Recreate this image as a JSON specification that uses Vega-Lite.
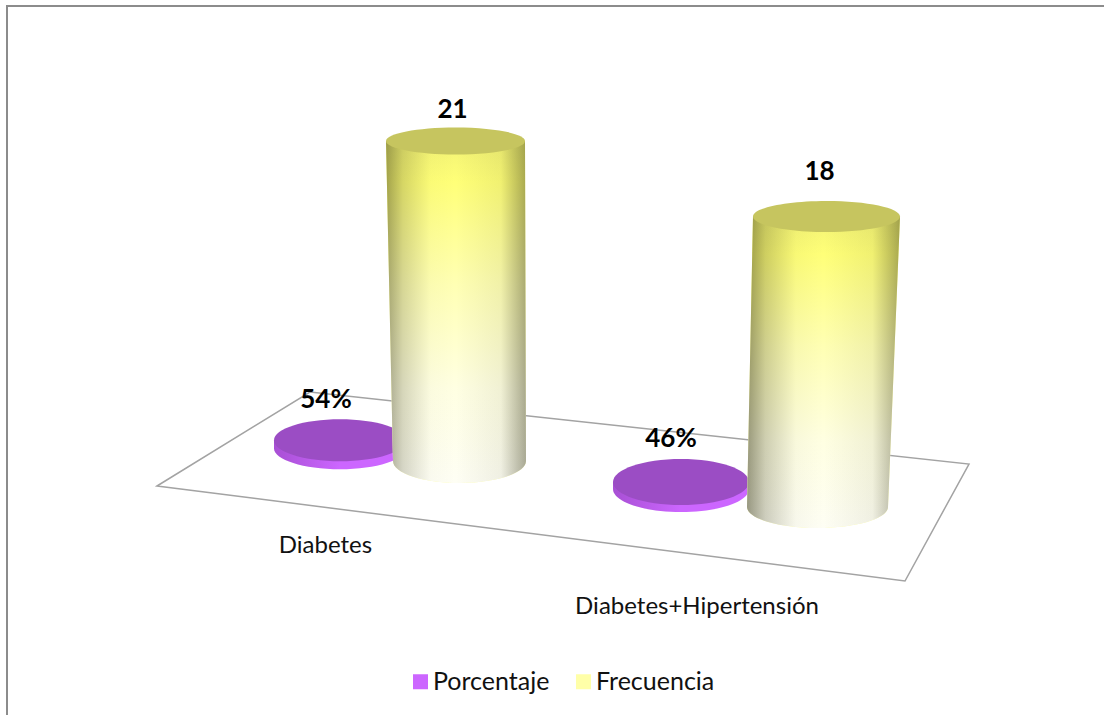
{
  "$schema": "https://vega.github.io/schema/vega-lite/v6.json",
  "width": 1200,
  "height": 800,
  "autosize": "none",
  "padding": {"left": 7, "top": 6, "right": 0, "bottom": 0},
  "background": "white",
  "config": {"view": {"stroke": "#8c8c8c", "strokeWidth": 2}},
  "data": {"values": [
    {"categoria": "Diabetes", "serie": "Porcentaje", "valor": 0.54},
    {"categoria": "Diabetes", "serie": "Frecuencia", "valor": 21},
    {"categoria": "Diabetes+Hipertensión", "serie": "Porcentaje", "valor": 0.46},
    {"categoria": "Diabetes+Hipertensión", "serie": "Frecuencia", "valor": 18}
  ]},
  "layer": [
    {
      "transform": [{"filter": "datum.categoria === 'Diabetes' && datum.serie === 'Frecuencia'"}],
      "mark": {"type": "point", "filled": false, "fill": "transparent", "opacity": 1, "size": 4, "stroke": "#a3a3a3", "strokeWidth": 1.5,
        "shape": "M-298.5,345L-145.5,251L513.5,323L449.5,440Z"},
      "encoding": {
        "x": {"field": "categoria", "type": "nominal", "axis": null, "scale": {"type": "point", "padding": 0, "domain": ["Diabetes", "Diabetes+Hipertensión"], "range": [448.5, 819.5]}},
        "y": {"field": "valor", "type": "quantitative", "axis": null, "scale": {"domain": [0, 21], "range": [455, 135], "nice": false}}
      }
    },
    {
      "transform": [{"filter": "datum.categoria === 'Diabetes' && datum.serie === 'Porcentaje'"}],
      "encoding": {
        "x": {"field": "categoria", "type": "nominal", "axis": null, "scale": {"type": "point", "padding": 0, "domain": ["Diabetes", "Diabetes+Hipertensión"], "range": [333, 674]}},
        "y": {"field": "valor", "type": "quantitative", "axis": null, "scale": {"domain": [0, 1], "range": [443, 427], "nice": false}}
      },
      "layer": [
        {
          "mark": {"type": "point", "filled": true, "opacity": 1, "size": 4, "shape": "M-66,0L-66,8A66,21 0 0,0 66,8L66,0Z"},
          "encoding": {"color": {"field": "serie", "type": "nominal",
            "scale": {"domain": ["Porcentaje", "Frecuencia"], "range": ["#cc66ff", "#ffffa8"]},
            "legend": {"orient": "none", "legendX": 401, "legendY": 663, "direction": "horizontal", "title": null, "symbolType": "square", "symbolSize": 225, "symbolStrokeWidth": 0, "labelFont": "Lato", "labelFontSize": 25, "labelColor": "#111111", "labelOffset": 0, "columnPadding": 21, "symbolOpacity": 1}}}
        },
        {"mark": {"type": "point", "filled": true, "opacity": 1, "size": 4, "shape": "M-66,0L-66,8A66,21 0 0,0 66,8L66,0Z",
          "fill": {"gradient": "linear", "x1": 0, "x2": 1, "y1": 0, "y2": 0, "stops": [{"offset": 0, "color": "rgba(40,0,60,0.22)"}, {"offset": 0.5, "color": "rgba(40,0,60,0)"}, {"offset": 1, "color": "rgba(40,0,60,0)"}]}}},
        {"mark": {"type": "point", "filled": true, "opacity": 1, "size": 4, "color": "#9b4dc4", "shape": "M-66,0A66,21 0 1,1 66,0A66,21 0 1,1 -66,0Z"}},
        {"mark": {"type": "text", "font": "Lato", "fontWeight": "bold", "fontSize": 26, "color": "#000000", "dx": -14, "dy": -40}, "encoding": {"text": {"field": "valor", "type": "quantitative", "format": ".0%"}}}
      ]
    },
    {
      "transform": [{"filter": "datum.categoria === 'Diabetes' && datum.serie === 'Frecuencia'"}],
      "encoding": {
        "x": {"field": "categoria", "type": "nominal", "axis": null, "scale": {"type": "point", "padding": 0, "domain": ["Diabetes", "Diabetes+Hipertensión"], "range": [448.5, 819.5]}},
        "y": {"field": "valor", "type": "quantitative", "axis": null, "scale": {"domain": [0, 21], "range": [455, 135], "nice": false}}
      },
      "layer": [
        {
          "mark": {"type": "point", "filled": true, "opacity": 1, "size": 4, "shape": "M-69.5,0L-62.5,320A66.5,22 0 0,0 70.5,320L69.5,0Z"},
          "encoding": {"color": {"field": "serie", "type": "nominal",
            "scale": {"domain": ["Porcentaje", "Frecuencia"], "range": ["#cc66ff", "#ffffa8"]},
            "legend": {"orient": "none", "legendX": 401, "legendY": 663, "direction": "horizontal", "title": null, "symbolType": "square", "symbolSize": 225, "symbolStrokeWidth": 0, "labelFont": "Lato", "labelFontSize": 25, "labelColor": "#111111", "labelOffset": 0, "columnPadding": 21, "symbolOpacity": 1}}}
        },
        {"mark": {"type": "point", "filled": true, "opacity": 1, "size": 4, "shape": "M-69.5,0L-62.5,320A66.5,22 0 0,0 70.5,320L69.5,0Z",
          "fill": {"gradient": "linear", "x1": 0, "x2": 0, "y1": 0, "y2": 1, "stops": [{"offset": 0, "color": "#f2f274"}, {"offset": 0.12, "color": "#ffff78"}, {"offset": 0.42, "color": "#ffffb4"}, {"offset": 0.72, "color": "#ffffe2"}, {"offset": 1, "color": "#fefef4"}]}}},
        {"mark": {"type": "point", "filled": true, "opacity": 1, "size": 4, "shape": "M-69.5,0L-62.5,320A66.5,22 0 0,0 70.5,320L69.5,0Z",
          "fill": {"gradient": "linear", "x1": 0, "x2": 1, "y1": 0, "y2": 0, "stops": [{"offset": 0, "color": "rgba(50,50,20,0.45)"}, {"offset": 0.12, "color": "rgba(50,50,20,0.2)"}, {"offset": 0.32, "color": "rgba(50,50,20,0.02)"}, {"offset": 0.5, "color": "rgba(50,50,20,0)"}, {"offset": 0.82, "color": "rgba(50,50,20,0.07)"}, {"offset": 1, "color": "rgba(50,50,20,0.42)"}]}}},
        {"mark": {"type": "point", "filled": true, "opacity": 1, "size": 4, "color": "#c6c55f", "shape": "M-69.5,0A69.5,13.5 0 1,1 69.5,0A69.5,13.5 0 1,1 -69.5,0Z"}},
        {"mark": {"type": "text", "font": "Lato", "fontWeight": "bold", "fontSize": 26, "color": "#000000", "dx": -3, "dy": -31}, "encoding": {"text": {"field": "valor", "type": "quantitative", "format": "d"}}}
      ]
    },
    {
      "transform": [{"filter": "datum.categoria === 'Diabetes+Hipertensión' && datum.serie === 'Porcentaje'"}],
      "encoding": {
        "x": {"field": "categoria", "type": "nominal", "axis": null, "scale": {"type": "point", "padding": 0, "domain": ["Diabetes", "Diabetes+Hipertensión"], "range": [333, 674]}},
        "y": {"field": "valor", "type": "quantitative", "axis": null, "scale": {"domain": [0, 1], "range": [483, 467.8], "nice": false}}
      },
      "layer": [
        {
          "mark": {"type": "point", "filled": true, "opacity": 1, "size": 4, "shape": "M-68,0L-68,7A68,23 0 0,0 68,7L68,0Z"},
          "encoding": {"color": {"field": "serie", "type": "nominal",
            "scale": {"domain": ["Porcentaje", "Frecuencia"], "range": ["#cc66ff", "#ffffa8"]},
            "legend": {"orient": "none", "legendX": 401, "legendY": 663, "direction": "horizontal", "title": null, "symbolType": "square", "symbolSize": 225, "symbolStrokeWidth": 0, "labelFont": "Lato", "labelFontSize": 25, "labelColor": "#111111", "labelOffset": 0, "columnPadding": 21, "symbolOpacity": 1}}}
        },
        {"mark": {"type": "point", "filled": true, "opacity": 1, "size": 4, "shape": "M-68,0L-68,7A68,23 0 0,0 68,7L68,0Z",
          "fill": {"gradient": "linear", "x1": 0, "x2": 1, "y1": 0, "y2": 0, "stops": [{"offset": 0, "color": "rgba(40,0,60,0.22)"}, {"offset": 0.5, "color": "rgba(40,0,60,0)"}, {"offset": 1, "color": "rgba(40,0,60,0)"}]}}},
        {"mark": {"type": "point", "filled": true, "opacity": 1, "size": 4, "color": "#9b4dc4", "shape": "M-68,0A68,23 0 1,1 68,0A68,23 0 1,1 -68,0Z"}},
        {"mark": {"type": "text", "font": "Lato", "fontWeight": "bold", "fontSize": 26, "color": "#000000", "dx": -10, "dy": -43}, "encoding": {"text": {"field": "valor", "type": "quantitative", "format": ".0%"}}}
      ]
    },
    {
      "transform": [{"filter": "datum.categoria === 'Diabetes+Hipertensión' && datum.serie === 'Frecuencia'"}],
      "encoding": {
        "x": {"field": "categoria", "type": "nominal", "axis": null, "scale": {"type": "point", "padding": 0, "domain": ["Diabetes", "Diabetes+Hipertensión"], "range": [448.5, 819.5]}},
        "y": {"field": "valor", "type": "quantitative", "axis": null, "scale": {"domain": [0, 18], "range": [501, 210.5], "nice": false}}
      },
      "layer": [
        {
          "mark": {"type": "point", "filled": true, "opacity": 1, "size": 4, "shape": "M-73.5,0L-79.5,290.5A70.5,21 0 0,0 61.5,290.5L73.5,0Z"},
          "encoding": {"color": {"field": "serie", "type": "nominal",
            "scale": {"domain": ["Porcentaje", "Frecuencia"], "range": ["#cc66ff", "#ffffa8"]},
            "legend": {"orient": "none", "legendX": 401, "legendY": 663, "direction": "horizontal", "title": null, "symbolType": "square", "symbolSize": 225, "symbolStrokeWidth": 0, "labelFont": "Lato", "labelFontSize": 25, "labelColor": "#111111", "labelOffset": 0, "columnPadding": 21, "symbolOpacity": 1}}}
        },
        {"mark": {"type": "point", "filled": true, "opacity": 1, "size": 4, "shape": "M-73.5,0L-79.5,290.5A70.5,21 0 0,0 61.5,290.5L73.5,0Z",
          "fill": {"gradient": "linear", "x1": 0, "x2": 0, "y1": 0, "y2": 1, "stops": [{"offset": 0, "color": "#f2f274"}, {"offset": 0.12, "color": "#ffff78"}, {"offset": 0.42, "color": "#ffffb4"}, {"offset": 0.72, "color": "#ffffe2"}, {"offset": 1, "color": "#fefef4"}]}}},
        {"mark": {"type": "point", "filled": true, "opacity": 1, "size": 4, "shape": "M-73.5,0L-79.5,290.5A70.5,21 0 0,0 61.5,290.5L73.5,0Z",
          "fill": {"gradient": "linear", "x1": 0, "x2": 1, "y1": 0, "y2": 0, "stops": [{"offset": 0, "color": "rgba(50,50,20,0.5)"}, {"offset": 0.12, "color": "rgba(50,50,20,0.24)"}, {"offset": 0.32, "color": "rgba(50,50,20,0.03)"}, {"offset": 0.5, "color": "rgba(50,50,20,0)"}, {"offset": 0.82, "color": "rgba(50,50,20,0.07)"}, {"offset": 1, "color": "rgba(50,50,20,0.42)"}]}}},
        {"mark": {"type": "point", "filled": true, "opacity": 1, "size": 4, "color": "#c6c55f", "shape": "M-73.5,0A73.5,15.5 0 1,1 73.5,0A73.5,15.5 0 1,1 -73.5,0Z"}},
        {"mark": {"type": "text", "font": "Lato", "fontWeight": "bold", "fontSize": 26, "color": "#000000", "dx": -7, "dy": -44.5}, "encoding": {"text": {"field": "valor", "type": "quantitative", "format": "d"}}}
      ]
    },
    {
      "transform": [{"filter": "datum.serie === 'Frecuencia'"}],
      "mark": {"type": "text", "font": "Lato", "fontSize": 24, "color": "#111111"},
      "encoding": {
        "x": {"field": "categoria", "type": "nominal", "axis": null, "scale": {"type": "point", "padding": 0, "domain": ["Diabetes", "Diabetes+Hipertensión"], "range": [318.5, 690]}},
        "y": {"field": "categoria", "type": "nominal", "axis": null, "scale": {"type": "point", "padding": 0, "domain": ["Diabetes", "Diabetes+Hipertensión"], "range": [540, 601]}},
        "text": {"field": "categoria", "type": "nominal"}
      }
    }
  ],
  "resolve": {"scale": {"x": "independent", "y": "independent"}}
}
